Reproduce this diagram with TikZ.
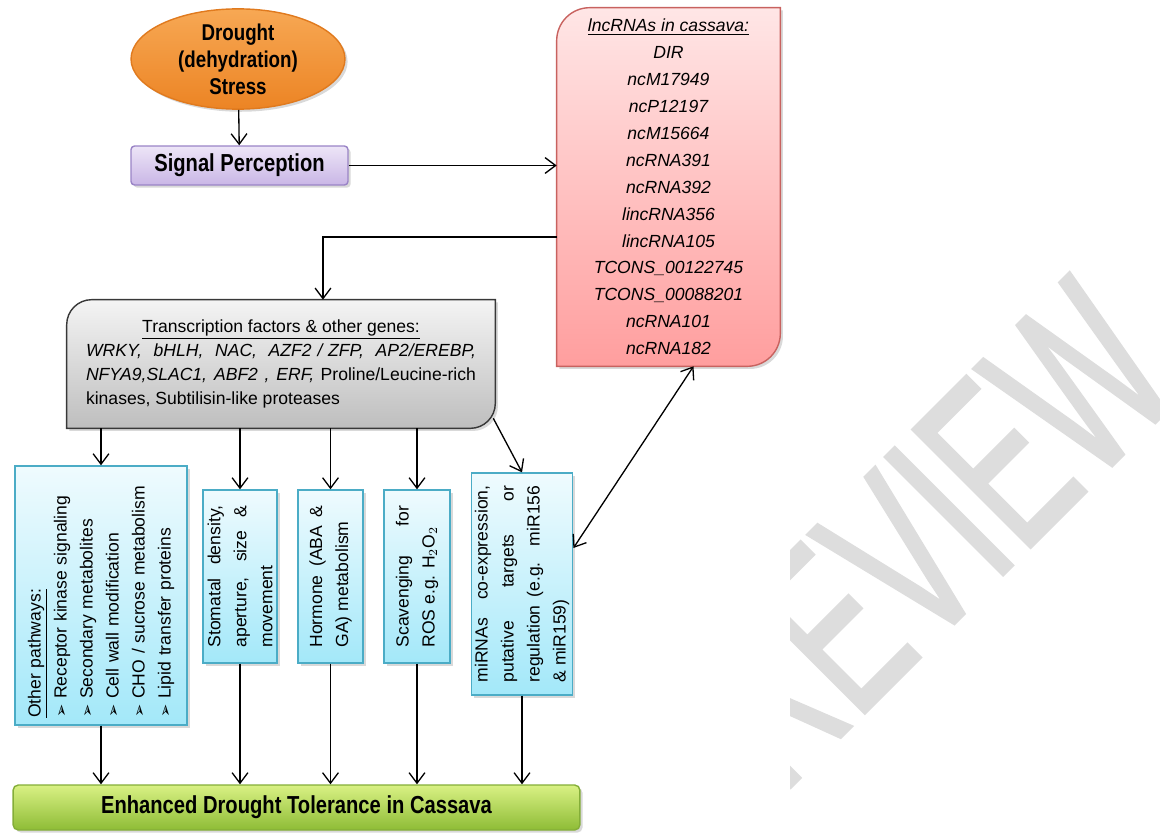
\documentclass[tikz,border=0pt]{standalone}
\usepackage{fontspec}
\setmainfont{Liberation Sans}
\newfontfamily\headfont[FakeStretch=0.82]{Liberation Sans}
\newfontfamily\arrowfont{DejaVu Sans}
\newfontfamily\markfont[FakeStretch=0.6,FakeBold=1.2]{Liberation Sans}
\usetikzlibrary{arrows.meta,shapes.geometric,shadows,backgrounds}

\definecolor{stresstop}{HTML}{F7A854}
\definecolor{stressbot}{HTML}{EC8424}
\definecolor{stressline}{HTML}{E07A1E}
\definecolor{signaltop}{HTML}{EDE5F7}
\definecolor{signalbot}{HTML}{C9B6E6}
\definecolor{signalline}{HTML}{9A84C6}
\definecolor{lnctop}{HTML}{FFE6E6}
\definecolor{lncbot}{HTML}{FF9E9E}
\definecolor{lncline}{HTML}{C8625F}
\definecolor{genetop}{HTML}{F4F4F4}
\definecolor{genebot}{HTML}{BEBEBE}
\definecolor{geneline}{HTML}{383838}
\definecolor{pathlight}{HTML}{EFFBFE}
\definecolor{pathdark}{HTML}{A3E8F9}
\definecolor{pathline}{HTML}{4BACC6}
\definecolor{toltop}{HTML}{D9F184}
\definecolor{tolbot}{HTML}{8EBC36}
\definecolor{tolline}{HTML}{84AE38}
\definecolor{markgray}{HTML}{DDDDDD}

\tikzset{
  link/.style={line width=0.75pt,-{Straight Barb[length=6pt,width=9pt]}},
  twoway/.style={line width=0.75pt,{Straight Barb[length=6pt,width=9pt]}-{Straight Barb[length=6pt,width=9pt]}},
  boxshadow/.style={drop shadow={opacity=0.3,shadow xshift=1.5pt,shadow yshift=-1.5pt}},
  stress/.style={ellipse,draw=stressline,line width=0.8pt,top color=stresstop,bottom color=stressbot,
    boxshadow,inner sep=0pt,minimum width=4.28cm,minimum height=1.96cm,align=center,
    font=\headfont\bfseries\fontsize{13}{15.4}\selectfont},
  perception/.style={rectangle,rounded corners=2pt,draw=signalline,line width=0.8pt,top color=signaltop,
    bottom color=signalbot,boxshadow,minimum width=4.34cm,minimum height=0.78cm,
    font=\headfont\bfseries\fontsize{14}{16}\selectfont},
  lnctext/.style={minimum width=4.46cm,minimum height=7.16cm,align=center,inner sep=0pt,
    font=\itshape\fontsize{10}{15.3}\selectfont},
  lncshape/.style={draw=lncline,line width=0.8pt,top color=lnctop,bottom color=lncbot,boxshadow},
  genetext/.style={minimum width=8.56cm,minimum height=2.56cm,text width=7.8cm,align=justify,
    inner sep=0pt,font=\fontsize{10}{13.8}\selectfont},
  geneshape/.style={draw=geneline,line width=0.8pt,top color=genetop,bottom color=genebot,boxshadow},
  pathbox/.style={rectangle,rotate=90,draw=pathline,line width=0.8pt,top color=pathlight,
    bottom color=pathdark,boxshadow,align=justify,inner ysep=2pt,font=\fontsize{10}{14.8}\selectfont},
  tolerance/.style={rectangle,rounded corners=3pt,draw=tolline,line width=0.8pt,top color=toltop,
    bottom color=tolbot,boxshadow,minimum width=11.34cm,minimum height=0.9cm,
    font=\headfont\bfseries\fontsize{14}{16}\selectfont},
  watermark/.style={rotate=45,anchor=base,inner sep=0pt,text=markgray,
    font=\markfont\fontsize{138}{138}\selectfont}
}

\newcommand{\bul}{{\arrowfont\fontsize{9}{9}\selectfont ➢}\ }

\begin{document}
\begin{tikzpicture}[x=0.02cm,y=-0.02cm]
  \useasboundingbox (0,0) rectangle (1160,832);
  % watermark, hidden left of the figure
  \begin{scope}
    \clip (790,0) rectangle (1160,832);
    \node[watermark] (mark) at (985,593) {REVIEW};
  \end{scope}

  \node[stress] (drought) at (238,59) {Drought\\(dehydration)\\Stress};
  \node[perception] (signal) at (239.5,165.5) {Signal Perception};
  \node[lnctext] (lnc) at (668.5,187) {\underline{lncRNAs in cassava:}\\DIR\\ncM17949\\ncP12197\\ncM15664\\
    ncRNA391\\ncRNA392\\lincRNA356\\lincRNA105\\TCONS\_00122745\\TCONS\_00088201\\ncRNA101\\ncRNA182};
  \node[genetext] (tf) at (281,364) {\hspace*{\fill}\underline{Transcription factors \& other genes:}\hspace*{\fill}\\
    \textit{WRKY, \ bHLH, \ NAC, \ AZF2 / ZFP, \ AP2/EREBP,}\linebreak
    \textit{NFYA9,SLAC1, ABF2 , ERF,} Proline/Leucine-rich\linebreak
    kinases, Subtilisin-like proteases};

  \begin{scope}[on background layer]
    \draw[lncshape] (lnc.south west) [rounded corners=0.66cm] -- (lnc.north west) [sharp corners]
      -- (lnc.north east) [rounded corners=0.66cm] -- (lnc.south east) [sharp corners] -- cycle;
    \draw[geneshape] (tf.south west) [rounded corners=0.5cm] -- (tf.north west) [sharp corners]
      -- (tf.north east) [rounded corners=0.5cm] -- (tf.south east) [sharp corners] -- cycle;
  \end{scope}

  \node[pathbox,minimum width=5.18cm,minimum height=3.44cm,text width=4.9cm,align=left] (oth) at (101,595.5)
    {\underline{Other pathways:}\\\bul Receptor kinase signaling\\\bul Secondary metabolites\\
     \bul Cell wall modification\\\bul CHO / sucrose metabolism\\\bul Lipid transfer proteins};
  \node[pathbox,minimum width=3.46cm,minimum height=1.48cm,text width=2.84cm] (sto) at (240,576.5)
    {Stomatal density,\linebreak aperture, size \&\linebreak movement};
  \node[pathbox,minimum width=3.46cm,minimum height=1.3cm,text width=2.84cm] (hor) at (330.5,576.5)
    {Hormone (ABA \&\linebreak GA) metabolism};
  \node[pathbox,minimum width=3.46cm,minimum height=1.32cm,text width=2.84cm] (sca) at (417,576.5)
    {Scavenging for\linebreak ROS e.g. H$_2$O$_2$};
  \node[pathbox,minimum width=4.44cm,minimum height=1.98cm,text width=3.94cm] (mir) at (522,584)
    {miRNAs co-expression,\linebreak putative targets or\linebreak regulation (e.g. miR156\linebreak \& miR159)};
  \node[tolerance] (tol) at (296.5,807.5) {Enhanced Drought Tolerance in Cassava};

  \draw[link] (drought) -- (signal);
  \draw[link] (signal.east) -- (signal.east -| lnc.west);
  \draw[link] ([yshift=-1cm]lnc.west) -| ([xshift=0.84cm]tf.north);
  \draw[link] (tf.south -| oth.east) -- (oth.east);
  \draw[link] (tf.south -| sto.east) -- (sto.east);
  \draw[link] (tf.south -| hor.east) -- (hor.east);
  \draw[link] (tf.south -| sca.east) -- (sca.east);
  \draw[link] ([xshift=-0.04cm,yshift=0.2cm]tf.south east) -- (mir.east);
  \draw[twoway] ([yshift=0.72cm]mir.south) -- ([xshift=0.5cm]lnc.south);
  \draw[link] (oth.west) -- (oth.west |- tol.north);
  \draw[link] (sto.west) -- (sto.west |- tol.north);
  \draw[link] (hor.west) -- (hor.west |- tol.north);
  \draw[link] (sca.west) -- (sca.west |- tol.north);
  \draw[link] (mir.west) -- (mir.west |- tol.north);
\end{tikzpicture}
\end{document}
